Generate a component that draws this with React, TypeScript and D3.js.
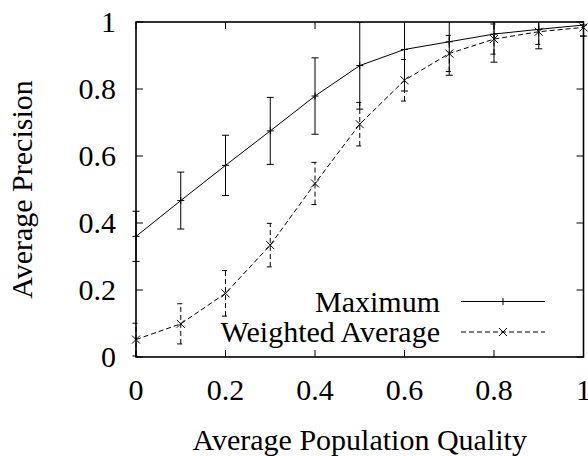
import * as d3 from 'd3';

const quality = [0, 0.1, 0.2, 0.3, 0.4, 0.5, 0.6, 0.7, 0.8, 0.9, 1.0];
const maximum = [0.36, 0.467, 0.572, 0.675, 0.779, 0.87, 0.918, 0.941, 0.964, 0.978, 0.991];
const maximumErr = [0.075, 0.085, 0.09, 0.1, 0.114, 0.13, 0.124, 0.1, 0.084, 0.058, 0.033];
const weighted = [0.052, 0.099, 0.19, 0.334, 0.518, 0.695, 0.826, 0.906, 0.949, 0.971, 0.984];
const weightedErr = [0.049, 0.06, 0.068, 0.065, 0.063, 0.065, 0.062, 0.054, 0.045, 0.038, 0.026];
const xTicks = [0, 0.2, 0.4, 0.6, 0.8, 1];
const yTicks = [0, 0.2, 0.4, 0.6, 0.8, 1];
const seriesNames = ['Maximum', 'Weighted Average'];

const W = 588;
const H = 456;
const left = 136, right = 583.5, top = 22, bottom = 357;
const tickLen = 7;
const cap = 3.5;
const plus = 3.5;
const cross = 4;
const DASH = '5,3';

const x = d3.scaleLinear().domain([0, 1]).range([left, right]);
const y = d3.scaleLinear().domain([0, 1]).range([bottom, top]);

const font = { fontFamily: 'serif', fontSize: 30 };

function markerPath(kind: string, cx: number, cy: number) {
  return kind === 'plus'
    ? `M${cx - plus},${cy}H${cx + plus}M${cx},${cy - plus}V${cy + plus}`
    : `M${cx - cross},${cy - cross}L${cx + cross},${cy + cross}M${cx - cross},${cy + cross}L${cx + cross},${cy - cross}`;
}

function Series({ vals, errs, dash, marker }: { vals: number[]; errs: number[]; dash?: string; marker: string }) {
  const line = d3.line<number>().x((_, i) => x(quality[i])).y(v => y(v));
  return (
    <g stroke="#000" fill="none" strokeWidth={1}>
      <g clipPath="url(#clipv)">
        {quality.map((q, i) => {
          const lo = y(vals[i] - errs[i]);
          const hi = y(vals[i] + errs[i]);
          const cx = x(q);
          return (
            <path key={i} strokeDasharray={dash}
              d={`M${cx},${lo}V${hi}M${cx - cap},${lo}H${cx + cap}M${cx - cap},${hi}H${cx + cap}`} />
          );
        })}
      </g>
      <path d={line(vals) ?? ''} strokeDasharray={dash} />
      {quality.map((q, i) => (
        <path key={i} d={markerPath(marker, x(q), y(vals[i]))} />
      ))}
    </g>
  );
}

export default function App() {
  const legendRows = [
    { name: seriesNames[0], ty: 311.5, ly: 301.5, dash: undefined, marker: 'plus' },
    { name: seriesNames[1], ty: 341.5, ly: 332, dash: DASH, marker: 'cross' },
  ];

  return (
    <svg width={W} height={H} style={{ position: 'absolute', left: 0, top: 0, background: '#fff' }}>
      <defs>
        {/* clip only vertically: error bars are cut at the top border */}
        <clipPath id="clipv">
          <rect x={0} y={top} width={W} height={bottom - top} />
        </clipPath>
      </defs>

      <g stroke="#000" strokeWidth={1}>
        {xTicks.map(t => (
          <g key={t}>
            <line x1={x(t)} x2={x(t)} y1={bottom} y2={bottom - tickLen} />
            <line x1={x(t)} x2={x(t)} y1={top} y2={top + tickLen} />
          </g>
        ))}
        {yTicks.map(t => (
          <g key={t}>
            <line x1={left} x2={left + tickLen} y1={y(t)} y2={y(t)} />
            <line x1={right} x2={right - tickLen} y1={y(t)} y2={y(t)} />
          </g>
        ))}
      </g>

      {xTicks.map(t => (
        <text key={t} x={x(t)} y={400} textAnchor="middle" style={font}>{String(t)}</text>
      ))}
      {yTicks.map(t => (
        <text key={t} x={116} y={y(t) + 10} textAnchor="end" style={font}>{String(t)}</text>
      ))}
      <text x={(left + right) / 2} y={450} textAnchor="middle" style={font}>Average Population Quality</text>
      <text transform={`translate(32,${(top + bottom) / 2}) rotate(-90)`} textAnchor="middle" style={font}>
        Average Precision
      </text>

      <Series vals={maximum} errs={maximumErr} marker="plus" />
      <Series vals={weighted} errs={weightedErr} dash={DASH} marker="cross" />

      {legendRows.map(r => (
        <g key={r.name}>
          <text x={440} y={r.ty} textAnchor="end" style={font}>{r.name}</text>
          <g stroke="#000" fill="none" strokeWidth={1}>
            <line x1={461} x2={545} y1={r.ly} y2={r.ly} strokeDasharray={r.dash} />
            <path d={markerPath(r.marker, 503, r.ly)} />
          </g>
        </g>
      ))}

      <rect x={left} y={top} width={right - left} height={bottom - top}
        fill="none" stroke="#000" strokeWidth={1.6} />
    </svg>
  );
}
